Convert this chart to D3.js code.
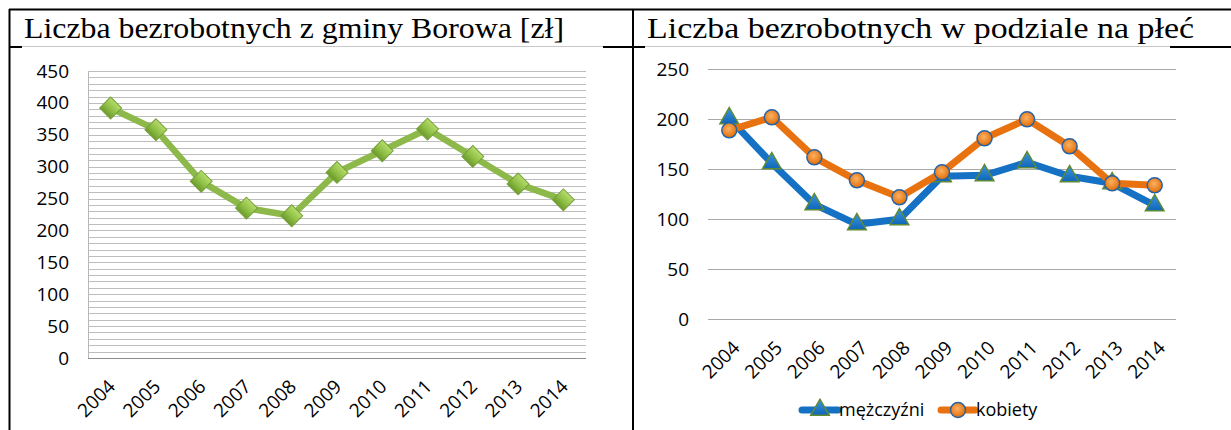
<!DOCTYPE html>
<html>
<head>
<meta charset="utf-8">
<script src="https://cdn.jsdelivr.net/npm/d3@7"></script>
<style>
  html, body { margin: 0; padding: 0; background: #fff; }
  svg { display: block; }
</style>
</head>
<body>
<div id="chart"></div>
<script>
// dane
const lata = ["2004", "2005", "2006", "2007", "2008", "2009", "2010", "2011", "2012", "2013", "2014"];
const bezrobotni = [392, 358, 277, 235, 223, 291, 325, 359, 316, 273, 248];
const mezczyzni = [201, 156, 115, 95, 100, 143, 144, 157, 143, 136, 114];
const kobiety = [189, 202, 162, 139, 122, 147, 181, 200, 173, 136, 134];
const ticksLewy = [0, 50, 100, 150, 200, 250, 300, 350, 400, 450];
const ticksPrawy = [0, 50, 100, 150, 200, 250];
const tytulLewy = "Liczba bezrobotnych z gminy Borowa [zł]";
const tytulPrawy = "Liczba bezrobotnych w podziale na płeć";
const legenda = ["mężczyźni", "kobiety"];

const width = 1231;
const height = 430;
const fontChart = "'Open Sans', sans-serif";
const fontTitle = "'Liberation Serif', 'Times New Roman', serif";

const svg = d3
  .select("#chart")
  .append("svg")
  .attr("width", width)
  .attr("height", height);

svg.append("rect").attr("width", width).attr("height", height).attr("fill", "#fff");

// gradienty
const defs = svg.append("defs");
const gGreen = defs.append("linearGradient").attr("id", "gGreen")
  .attr("x1", 0).attr("y1", 0).attr("x2", 0).attr("y2", 1);
gGreen.append("stop").attr("offset", "0%").attr("stop-color", "#b5dc6c");
gGreen.append("stop").attr("offset", "55%").attr("stop-color", "#8fbf45");
gGreen.append("stop").attr("offset", "100%").attr("stop-color", "#6b9a2c");

const gOrange = defs.append("radialGradient").attr("id", "gOrange")
  .attr("cx", "45%").attr("cy", "40%").attr("r", "60%");
gOrange.append("stop").attr("offset", "0%").attr("stop-color", "#fbb163");
gOrange.append("stop").attr("offset", "100%").attr("stop-color", "#e26c05");

const gBlue = defs.append("linearGradient").attr("id", "gBlue")
  .attr("x1", 0).attr("y1", 0).attr("x2", 0).attr("y2", 1);
gBlue.append("stop").attr("offset", "0%").attr("stop-color", "#3b95e0");
gBlue.append("stop").attr("offset", "100%").attr("stop-color", "#1066b8");

// tabela
svg.append("line").attr("x1", 9).attr("x2", width).attr("y1", 9.5).attr("y2", 9.5)
  .attr("stroke", "#000").attr("stroke-width", 2);
svg.append("line").attr("x1", 9.5).attr("x2", 9.5).attr("y1", 9).attr("y2", height)
  .attr("stroke", "#000").attr("stroke-width", 2);
svg.append("line").attr("x1", 633).attr("x2", 633).attr("y1", 9).attr("y2", height)
  .attr("stroke", "#000").attr("stroke-width", 2);
svg.append("line").attr("x1", 9).attr("x2", width).attr("y1", 47).attr("y2", 47)
  .attr("stroke", "#000").attr("stroke-width", 2);

// obrazki wykresów zakrywają linię
[[22, 603], [645, 1170]].forEach(([a, b]) => {
  svg.append("rect").attr("x", a).attr("y", 46).attr("width", b - a).attr("height", height - 46)
    .attr("fill", "#fff");
  svg.append("line").attr("x1", a).attr("x2", b).attr("y1", 46.5).attr("y2", 46.5)
    .attr("stroke", "#c8c8c8").attr("stroke-width", 1);
});

svg.append("text").attr("x", 24).attr("y", 38)
  .style("font-family", fontTitle).style("font-size", "29px")
  .attr("textLength", 540).attr("lengthAdjust", "spacingAndGlyphs")
  .text(tytulLewy);
svg.append("text").attr("x", 647).attr("y", 38)
  .style("font-family", fontTitle).style("font-size", "29px")
  .attr("textLength", 547).attr("lengthAdjust", "spacingAndGlyphs")
  .text(tytulPrawy);

// etykiety osi X (obrócone)
function osX(g, x, y0, dx) {
  g.selectAll(".xl")
    .data(lata)
    .enter()
    .append("text")
    .attr("class", "xl")
    .attr("transform", (d) => "translate(" + (x(d) + x.bandwidth() / 2 + dx) + "," + (y0 + 25) + ") rotate(-45)")
    .attr("text-anchor", "end")
    .attr("dy", "0.35em")
    .style("font-family", fontChart)
    .style("font-size", "19px")
    .attr("fill", "#000")
    .text((d) => d);
}

// ---------- wykres lewy ----------
const L = { left: 88, right: 586, top: 71, bottom: 358 };
const xL = d3.scaleBand().domain(lata).range([L.left, L.right]);
const yL = d3.scaleLinear().domain([0, 450]).range([L.bottom, L.top]);
const gl = svg.append("g");

gl.selectAll(".grid")
  .data(yL.ticks(45))
  .enter()
  .append("line")
  .attr("x1", L.left).attr("x2", L.right)
  .attr("y1", (d) => Math.round(yL(d)) + 0.5).attr("y2", (d) => Math.round(yL(d)) + 0.5)
  .attr("stroke", "#bdbdbd").attr("stroke-width", 1);
gl.append("line").attr("x1", L.left + 0.5).attr("x2", L.left + 0.5).attr("y1", L.top).attr("y2", L.bottom)
  .attr("stroke", "#b8b8b8");
gl.append("line").attr("x1", L.left).attr("x2", L.right).attr("y1", L.bottom + 0.5).attr("y2", L.bottom + 0.5)
  .attr("stroke", "#8c8c8c");

gl.append("g")
  .attr("transform", "translate(" + (L.left - 19) + ",0)")
  .call(d3.axisLeft(yL).tickValues(ticksLewy).tickSize(0).tickPadding(0))
  .call((g) => g.select(".domain").remove())
  .call((g) => g.selectAll("text").style("font-family", fontChart).style("font-size", "19px").attr("fill", "#000"));

osX(gl, xL, L.bottom, 1);

const lineL = d3.line()
  .x((d, i) => xL(lata[i]) + xL.bandwidth() / 2)
  .y((d) => yL(d));
gl.append("path").datum(bezrobotni).attr("d", lineL)
  .attr("fill", "none").attr("stroke", "#8db84a").attr("stroke-width", 6.5)
  .attr("stroke-linejoin", "round");
gl.selectAll(".diam")
  .data(bezrobotni)
  .enter()
  .append("path")
  .attr("d", d3.symbol().type(d3.symbolSquare).size(240))
  .attr("transform", (d, i) => "translate(" + (xL(lata[i]) + xL.bandwidth() / 2) + "," + yL(d) + ") rotate(45)")
  .attr("fill", "url(#gGreen)").attr("stroke", "#76a03a").attr("stroke-width", 1);

// ---------- wykres prawy ----------
const R = { left: 708, right: 1176, top: 69.3, bottom: 319.3 };
const xR = d3.scaleBand().domain(lata).range([R.left, R.right]);
const yR = d3.scaleLinear().domain([0, 250]).range([R.bottom, R.top]);
const gr = svg.append("g");

gr.selectAll(".grid")
  .data(ticksPrawy)
  .enter()
  .append("line")
  .attr("x1", R.left).attr("x2", R.right)
  .attr("y1", (d) => Math.round(yR(d)) + 0.5).attr("y2", (d) => Math.round(yR(d)) + 0.5)
  .attr("stroke", "#a8a8a8").attr("stroke-width", 1);

gr.append("g")
  .attr("transform", "translate(" + (R.left - 19) + ",0)")
  .call(d3.axisLeft(yR).tickValues(ticksPrawy).tickSize(0).tickPadding(0))
  .call((g) => g.select(".domain").remove())
  .call((g) => g.selectAll("text").style("font-family", fontChart).style("font-size", "19px").attr("fill", "#000"));

osX(gr, xR, R.bottom, 7);

const lineR = d3.line()
  .x((d, i) => xR(lata[i]) + xR.bandwidth() / 2)
  .y((d) => yR(d));
const tri = d3.symbol().type(d3.symbolTriangle).size(150);

// mężczyźni
gr.append("path").datum(mezczyzni).attr("d", lineR)
  .attr("fill", "none").attr("stroke", "#1571c4").attr("stroke-width", 7)
  .attr("stroke-linejoin", "round");
gr.selectAll(".tri")
  .data(mezczyzni)
  .enter()
  .append("path")
  .attr("d", tri)
  .attr("transform", (d, i) => "translate(" + (xR(lata[i]) + xR.bandwidth() / 2) + "," + yR(d) + ")")
  .attr("fill", "url(#gBlue)").attr("stroke", "#5e8a35").attr("stroke-width", 1.5);

// kobiety
gr.append("path").datum(kobiety).attr("d", lineR)
  .attr("fill", "none").attr("stroke", "#e8720f").attr("stroke-width", 7)
  .attr("stroke-linejoin", "round");
gr.selectAll(".circ")
  .data(kobiety)
  .enter()
  .append("circle")
  .attr("cx", (d, i) => xR(lata[i]) + xR.bandwidth() / 2)
  .attr("cy", (d) => yR(d))
  .attr("r", 7.5)
  .attr("fill", "url(#gOrange)").attr("stroke", "#2563a8").attr("stroke-width", 1.5);

// legenda
const legY = 410;
const leg = gr.append("g");
const legItems = [
  { label: legenda[0], x1: 802, x2: 838, color: "#1571c4", type: "tri" },
  { label: legenda[1], x1: 941, x2: 975, color: "#e8720f", type: "circ" },
];
legItems.forEach((it) => {
  leg.append("line").attr("x1", it.x1).attr("x2", it.x2).attr("y1", legY).attr("y2", legY)
    .attr("stroke", it.color).attr("stroke-width", 7).attr("stroke-linecap", "round");
  const cx = (it.x1 + it.x2) / 2;
  if (it.type === "tri") {
    leg.append("path").attr("d", tri).attr("transform", "translate(" + cx + "," + legY + ")")
      .attr("fill", "url(#gBlue)").attr("stroke", "#5e8a35").attr("stroke-width", 1.5);
  } else {
    leg.append("circle").attr("cx", cx).attr("cy", legY).attr("r", 7.5)
      .attr("fill", "url(#gOrange)").attr("stroke", "#2563a8").attr("stroke-width", 1.5);
  }
  leg.append("text").attr("x", it.x2 + 1).attr("y", legY).attr("dy", "0.35em")
    .style("font-family", fontChart).style("font-size", "18px").attr("fill", "#000")
    .text(it.label);
});
</script>
</body>
</html>
